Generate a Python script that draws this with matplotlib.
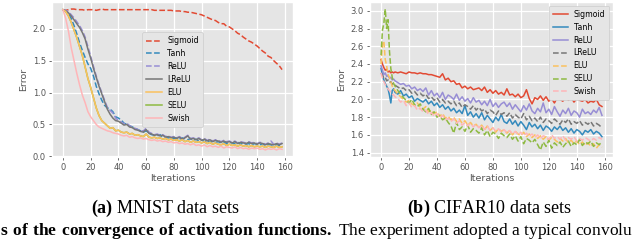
import numpy as np
import matplotlib
matplotlib.use("Agg")
import matplotlib.pyplot as plt

# iterations (x axis)
mnist_iters = np.arange(0, 160, 2)
cifar_iters = np.concatenate([np.arange(0, 10), np.arange(10, 160, 2)])

labels = ["Sigmoid", "Tanh", "ReLU", "LReLU", "ELU", "SELU", "Swish"]

# ---- MNIST error curves ----
mnist_sigmoid = [
    2.30, 2.29, 2.30, 2.31, 2.31, 2.30, 2.30, 2.30, 2.29, 2.30,
    2.30, 2.30, 2.29, 2.30, 2.31, 2.30, 2.30, 2.30, 2.30, 2.30,
    2.30, 2.30, 2.30, 2.30, 2.30, 2.30, 2.30, 2.30, 2.30, 2.30,
    2.30, 2.30, 2.30, 2.29, 2.29, 2.29, 2.29, 2.29, 2.29, 2.29,
    2.28, 2.28, 2.28, 2.27, 2.27, 2.26, 2.26, 2.25, 2.24, 2.23,
    2.22, 2.20, 2.18, 2.16, 2.14, 2.13, 2.10, 2.08, 2.08, 2.04,
    2.03, 2.00, 1.97, 1.93, 1.91, 1.87, 1.84, 1.81, 1.79, 1.76,
    1.73, 1.69, 1.65, 1.62, 1.57, 1.55, 1.50, 1.46, 1.42, 1.36]
mnist_tanh = [
    2.30, 2.28, 2.24, 2.16, 2.05, 1.92, 1.78, 1.66, 1.55, 1.45,
    1.38, 1.26, 1.10, 0.98, 0.88, 0.80, 0.76, 0.74, 0.70, 0.62,
    0.60, 0.57, 0.52, 0.50, 0.48, 0.46, 0.44, 0.42, 0.40, 0.38,
    0.40, 0.36, 0.34, 0.33, 0.32, 0.34, 0.30, 0.31, 0.29, 0.30,
    0.28, 0.29, 0.27, 0.29, 0.27, 0.26, 0.28, 0.25, 0.27, 0.24,
    0.26, 0.23, 0.25, 0.22, 0.24, 0.22, 0.23, 0.21, 0.23, 0.20,
    0.22, 0.21, 0.20, 0.22, 0.19, 0.21, 0.19, 0.20, 0.18, 0.20,
    0.19, 0.18, 0.20, 0.17, 0.19, 0.18, 0.17, 0.19, 0.17, 0.18]
mnist_relu = [
    2.30, 2.29, 2.27, 2.22, 2.17, 2.11, 2.05, 1.97, 1.87, 1.72,
    1.57, 1.41, 1.26, 1.12, 1.00, 0.88, 0.77, 0.72, 0.68, 0.60,
    0.56, 0.54, 0.51, 0.52, 0.48, 0.46, 0.44, 0.42, 0.40, 0.40,
    0.44, 0.38, 0.36, 0.34, 0.35, 0.33, 0.34, 0.31, 0.32, 0.30,
    0.31, 0.29, 0.31, 0.28, 0.30, 0.33, 0.28, 0.29, 0.27, 0.29,
    0.26, 0.28, 0.25, 0.27, 0.24, 0.26, 0.25, 0.23, 0.25, 0.23,
    0.24, 0.22, 0.24, 0.21, 0.23, 0.22, 0.21, 0.23, 0.21, 0.22,
    0.20, 0.22, 0.21, 0.19, 0.21, 0.24, 0.19, 0.21, 0.19, 0.21]
mnist_lrelu = [
    2.30, 2.28, 2.25, 2.20, 2.14, 2.08, 2.02, 1.94, 1.84, 1.68,
    1.54, 1.38, 1.24, 1.10, 0.98, 0.86, 0.74, 0.66, 0.60, 0.56,
    0.55, 0.52, 0.49, 0.50, 0.46, 0.45, 0.42, 0.41, 0.39, 0.38,
    0.42, 0.36, 0.35, 0.33, 0.34, 0.32, 0.33, 0.30, 0.31, 0.29,
    0.30, 0.28, 0.30, 0.27, 0.29, 0.32, 0.27, 0.28, 0.26, 0.28,
    0.25, 0.27, 0.24, 0.26, 0.23, 0.25, 0.24, 0.22, 0.24, 0.22,
    0.23, 0.21, 0.23, 0.20, 0.22, 0.21, 0.20, 0.22, 0.20, 0.21,
    0.19, 0.21, 0.20, 0.18, 0.20, 0.19, 0.18, 0.20, 0.18, 0.20]
mnist_elu = [
    2.30, 2.27, 2.20, 2.10, 1.98, 1.86, 1.72, 1.58, 1.40, 1.22,
    1.08, 0.92, 0.76, 0.64, 0.56, 0.52, 0.48, 0.44, 0.45, 0.40,
    0.41, 0.38, 0.37, 0.38, 0.35, 0.36, 0.33, 0.34, 0.32, 0.31,
    0.35, 0.30, 0.29, 0.30, 0.28, 0.29, 0.27, 0.28, 0.26, 0.27,
    0.25, 0.26, 0.24, 0.26, 0.23, 0.25, 0.22, 0.24, 0.22, 0.23,
    0.21, 0.23, 0.20, 0.22, 0.19, 0.21, 0.19, 0.18, 0.20, 0.17,
    0.19, 0.17, 0.18, 0.16, 0.18, 0.16, 0.17, 0.15, 0.17, 0.15,
    0.16, 0.15, 0.16, 0.14, 0.16, 0.15, 0.14, 0.16, 0.14, 0.15]
# SELU sits underneath the ELU curve in the original, not visible
mnist_selu = mnist_elu
mnist_swish = [
    2.30, 2.16, 1.96, 1.70, 1.50, 1.30, 1.12, 0.96, 0.84, 0.70,
    0.62, 0.56, 0.50, 0.46, 0.44, 0.42, 0.40, 0.39, 0.37, 0.36,
    0.35, 0.33, 0.32, 0.33, 0.30, 0.31, 0.29, 0.28, 0.29, 0.27,
    0.28, 0.26, 0.25, 0.26, 0.24, 0.25, 0.23, 0.24, 0.22, 0.23,
    0.21, 0.22, 0.20, 0.21, 0.19, 0.20, 0.18, 0.20, 0.17, 0.18,
    0.16, 0.18, 0.15, 0.17, 0.15, 0.16, 0.14, 0.16, 0.13, 0.15,
    0.14, 0.13, 0.15, 0.12, 0.14, 0.12, 0.13, 0.11, 0.13, 0.12,
    0.13, 0.11, 0.12, 0.10, 0.12, 0.11, 0.12, 0.10, 0.12, 0.11]

# ---- CIFAR10 error curves ----
cifar_sigmoid = [
    2.45, 2.40, 2.36, 2.33, 2.34, 2.31, 2.32, 2.30, 2.31, 2.30,
    2.31, 2.30, 2.31, 2.30, 2.29, 2.31, 2.30, 2.30, 2.29, 2.30,
    2.29, 2.29, 2.28, 2.28, 2.27, 2.26, 2.25, 2.29, 2.22, 2.24,
    2.20, 2.21, 2.17, 2.18, 2.13, 2.15, 2.12, 2.14, 2.11, 2.12,
    2.13, 2.10, 2.14, 2.08, 2.11, 2.07, 2.10, 2.06, 2.08, 2.05,
    2.12, 2.05, 2.06, 2.03, 2.06, 2.02, 2.04, 2.11, 2.01, 1.95,
    2.02, 2.00, 2.04, 1.99, 2.03, 1.98, 2.01, 1.96, 2.02, 2.00,
    1.98, 2.03, 1.99, 2.02, 1.97, 2.01, 1.99, 1.98, 2.00, 1.96,
    1.98, 1.97, 2.00, 1.94, 1.92]
cifar_tanh = [
    2.35, 2.28, 2.22, 2.18, 2.15, 2.12, 2.05, 1.96, 2.10, 2.12,
    2.08, 2.06, 2.10, 2.04, 2.06, 2.02, 2.04, 1.98, 2.01, 1.99,
    1.97, 2.00, 1.95, 1.98, 1.93, 1.96, 1.91, 1.94, 1.89, 1.92,
    1.87, 1.90, 1.85, 1.88, 1.84, 1.93, 1.82, 1.86, 1.80, 1.84,
    1.79, 1.85, 1.77, 1.82, 1.78, 1.74, 1.80, 1.76, 1.83, 1.75,
    1.73, 1.78, 1.72, 1.76, 1.70, 1.75, 1.71, 1.66, 1.74, 1.69,
    1.72, 1.67, 1.71, 1.65, 1.70, 1.68, 1.64, 1.69, 1.66, 1.70,
    1.65, 1.68, 1.63, 1.67, 1.62, 1.66, 1.64, 1.60, 1.65, 1.63,
    1.66, 1.61, 1.64, 1.62, 1.58]
cifar_relu = [
    2.38, 2.33, 2.28, 2.30, 2.26, 2.27, 2.24, 2.25, 2.22, 2.23,
    2.21, 2.19, 2.17, 2.18, 2.15, 2.16, 2.12, 2.14, 2.10, 2.12,
    2.09, 2.13, 2.05, 2.10, 2.04, 2.07, 2.02, 2.08, 2.00, 2.05,
    2.03, 2.00, 2.06, 1.99, 2.03, 1.98, 2.01, 1.96, 2.02, 1.97,
    1.99, 1.94, 1.98, 1.93, 2.00, 1.92, 1.96, 1.91, 1.95, 1.97,
    1.92, 1.96, 1.89, 1.94, 1.90, 1.86, 1.93, 1.88, 1.95, 1.87,
    1.84, 1.90, 1.86, 1.96, 1.85, 1.89, 1.83, 1.92, 1.86, 1.81,
    1.88, 1.84, 1.90, 1.82, 1.87, 1.85, 1.80, 1.89, 1.84, 1.86,
    1.83, 1.88, 1.85, 1.91, 1.82]
cifar_lrelu = [
    2.30, 2.27, 2.24, 2.25, 2.21, 2.22, 2.19, 2.20, 2.17, 2.18,
    2.16, 2.14, 2.12, 2.13, 2.10, 2.11, 2.07, 2.09, 2.05, 2.07,
    2.04, 2.06, 2.01, 2.03, 1.99, 2.02, 1.97, 2.00, 1.96, 1.98,
    1.95, 1.98, 1.93, 1.96, 1.91, 1.94, 1.92, 1.89, 1.93, 1.88,
    1.91, 1.87, 1.89, 1.84, 1.88, 1.86, 1.82, 1.87, 1.83, 1.85,
    1.81, 1.85, 1.79, 1.83, 1.80, 1.78, 1.84, 1.77, 1.81, 1.76,
    1.79, 1.75, 1.80, 1.74, 1.78, 1.76, 1.73, 1.78, 1.75, 1.72,
    1.77, 1.74, 1.78, 1.72, 1.75, 1.73, 1.76, 1.71, 1.74, 1.72,
    1.75, 1.70, 1.73, 1.71, 1.68]
cifar_elu = [
    2.40, 2.62, 2.66, 2.45, 2.38, 2.28, 2.25, 2.20, 2.15, 2.12,
    2.10, 2.06, 2.03, 2.00, 1.97, 1.99, 1.95, 1.93, 1.96, 1.91,
    1.89, 1.92, 1.86, 1.88, 1.84, 1.86, 1.81, 1.84, 1.79, 1.81,
    1.77, 1.80, 1.75, 1.78, 1.73, 1.76, 1.71, 1.74, 1.70, 1.72,
    1.68, 1.71, 1.66, 1.70, 1.65, 1.68, 1.63, 1.67, 1.64, 1.66,
    1.62, 1.65, 1.60, 1.64, 1.61, 1.59, 1.63, 1.58, 1.61, 1.57,
    1.60, 1.56, 1.59, 1.55, 1.58, 1.54, 1.57, 1.55, 1.52, 1.56,
    1.53, 1.56, 1.51, 1.54, 1.50, 1.53, 1.49, 1.52, 1.48, 1.51,
    1.47, 1.50, 1.45, 1.49, 1.46]
cifar_selu = [
    2.50, 2.78, 2.86, 3.02, 2.80, 2.90, 2.55, 2.35, 2.25, 2.18,
    2.15, 2.10, 2.06, 2.02, 1.99, 1.96, 2.00, 1.94, 1.92, 1.95,
    1.89, 1.86, 1.90, 1.83, 1.86, 1.80, 1.82, 1.77, 1.79, 1.74,
    1.70, 1.62, 1.74, 1.66, 1.69, 1.64, 1.71, 1.63, 1.67, 1.65,
    1.62, 1.68, 1.60, 1.65, 1.58, 1.63, 1.61, 1.56, 1.62, 1.59,
    1.57, 1.61, 1.55, 1.59, 1.53, 1.58, 1.50, 1.56, 1.54, 1.51,
    1.55, 1.49, 1.43, 1.52, 1.47, 1.54, 1.45, 1.51, 1.48, 1.52,
    1.46, 1.50, 1.53, 1.47, 1.51, 1.49, 1.55, 1.48, 1.52, 1.50,
    1.53, 1.47, 1.51, 1.49, 1.52]
cifar_swish = [
    2.30, 2.24, 2.20, 2.17, 2.14, 2.12, 2.10, 2.08, 2.06, 2.05,
    2.03, 2.01, 1.97, 1.99, 1.93, 1.96, 1.91, 1.93, 1.88, 1.90,
    1.86, 1.88, 1.83, 1.85, 1.81, 1.84, 1.79, 1.82, 1.77, 1.79,
    1.75, 1.78, 1.73, 1.76, 1.71, 1.74, 1.70, 1.73, 1.69, 1.72,
    1.68, 1.71, 1.66, 1.70, 1.65, 1.68, 1.64, 1.67, 1.63, 1.66,
    1.62, 1.65, 1.61, 1.64, 1.60, 1.63, 1.59, 1.62, 1.58, 1.61,
    1.57, 1.60, 1.56, 1.59, 1.58, 1.55, 1.60, 1.56, 1.58, 1.55,
    1.59, 1.54, 1.57, 1.55, 1.58, 1.53, 1.56, 1.54, 1.57, 1.55,
    1.53, 1.56, 1.54, 1.57, 1.55]

plt.style.use("ggplot")
plt.rcParams["mathtext.fontset"] = "custom"
plt.rcParams["mathtext.rm"] = "Liberation Serif"
plt.rcParams["mathtext.bf"] = "Liberation Serif:bold"

colors = ["#E24A33", "#348ABD", "#988ED5", "#777777", "#FBC15E", "#8EBA42", "#FFB5B8"]

fig = plt.figure(figsize=(6.4, 2.4), dpi=100)
ax1 = fig.add_axes([52 / 640, 83 / 240, 241 / 640, 155 / 240])
ax2 = fig.add_axes([370 / 640, 83 / 240, 243 / 640, 155 / 240])

mnist = [mnist_sigmoid, mnist_tanh, mnist_relu, mnist_lrelu, mnist_elu, mnist_selu, mnist_swish]
mnist_styles = ["--", "--", "--", "-", "-", "-", "-"]
for i, (ys, ls) in enumerate(zip(mnist, mnist_styles)):
    z = 1.5 if labels[i] == "SELU" else 2
    ax1.plot(mnist_iters, ys, ls, color=colors[i], lw=1.1, label=labels[i], zorder=z)

cifar = [cifar_sigmoid, cifar_tanh, cifar_relu, cifar_lrelu, cifar_elu, cifar_selu, cifar_swish]
cifar_styles = ["-", "-", "-", "--", "--", "--", "--"]
for i, (ys, ls) in enumerate(zip(cifar, cifar_styles)):
    ax2.plot(cifar_iters, ys, ls, color=colors[i], lw=1.1, label=labels[i])

for ax in (ax1, ax2):
    ax.set_xticks(np.arange(0, 161, 20))
    ax.tick_params(labelsize=6, length=2.5, width=0.6, pad=2, colors="#555555")
    ax.set_xlabel("Iterations", fontsize=6.8, color="#555555", labelpad=1)
    ax.set_ylabel("Error", fontsize=6.8, color="#555555", labelpad=3)
    ax.grid(True, color="white", lw=0.9)

ax1.legend(loc="center", fontsize=5.6, labelspacing=0.5, handlelength=2.0,
           handletextpad=0.7, borderpad=0.5, framealpha=1.0)
ax2.legend(loc="upper right", fontsize=5.6, labelspacing=0.5, handlelength=2.0,
           handletextpad=0.7, borderpad=0.5, framealpha=1.0)

# sub-captions and the visible part of the figure caption
cap_y = 27 / 240
fig.text(165 / 640, cap_y, r"$\mathbf{(a)}$ MNIST data sets", family="Liberation Serif",
         fontsize=13, ha="center", va="baseline", color="black")
fig.text(489 / 640, cap_y, r"$\mathbf{(b)}$ CIFAR10 data sets", family="Liberation Serif",
         fontsize=13, ha="center", va="baseline", color="black")
fig.text(0.0, 5 / 240,
         r"$\mathbf{s\ of\ the\ convergence\ of\ activation\ functions.}$"
         " The experiment adopted a typical convolu",
         family="Liberation Serif", fontsize=12.5, ha="left", va="baseline", color="black")

fig.savefig("out.png", dpi=100)
